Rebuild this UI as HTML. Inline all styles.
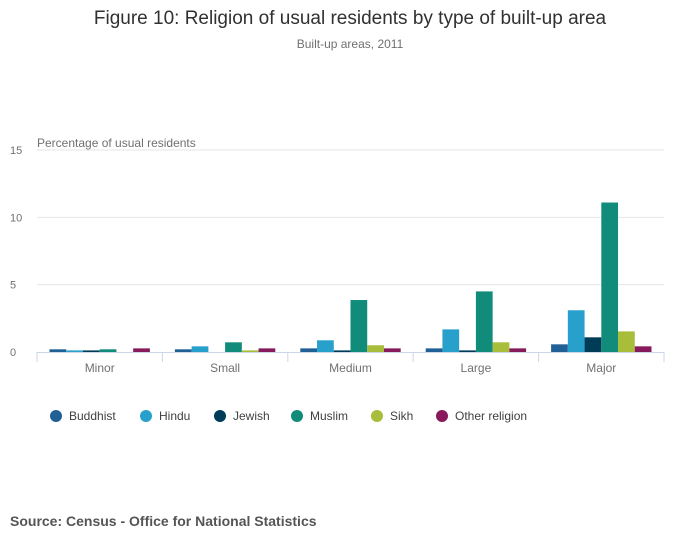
<!DOCTYPE html>
<html><head><meta charset="utf-8"><style>
body{margin:0;background:#fff;font-family:"Liberation Sans",sans-serif;}
#wrap{position:relative;width:700px;height:549px;overflow:hidden;}
</style></head><body>
<div id="wrap">
<svg id="chart" width="700" height="549"></svg>
</div>
<script>
const categories=["Minor","Small","Medium","Large","Major"];
const seriesNames=["Buddhist","Hindu","Jewish","Muslim","Sikh","Other religion"];
const buddhist=[0.2,0.2,0.27,0.27,0.57];
const hindu=[0.12,0.42,0.87,1.68,3.1];
const jewish=[0.12,0,0.12,0.12,1.09];
const muslim=[0.2,0.72,3.86,4.5,11.1];
const sikh=[0,0.12,0.5,0.72,1.53];
const other=[0.27,0.27,0.27,0.27,0.42];
const yTicks=[0,5,10,15];
const colors=["#206095","#27a0cc","#003c57","#118c7b","#a8bd3a","#871a5b"];
const series=[buddhist,hindu,jewish,muslim,sikh,other];
const NS="http://www.w3.org/2000/svg";
const svg=document.getElementById('chart');
function mk(t,a,txt){const e=document.createElementNS(NS,t);for(const k in a)e.setAttribute(k,a[k]);if(txt!==undefined)e.textContent=txt;svg.appendChild(e);return e;}
const x0=37,x1=664,yBase=352,yTop=150,yMax=15;
const y=v=>yBase-(v/yMax)*(yBase-yTop);
const bandW=(x1-x0)/categories.length;
const pad=12.5,barW=(bandW-2*pad)/series.length;
let e;
e=mk('text',{x:350,y:24,'text-anchor':'middle','font-size':19,fill:'#323132'},'Figure 10: Religion of usual residents by type of built-up area');

e=mk('text',{x:350,y:48,'text-anchor':'middle','font-size':12,fill:'#707070'},'Built-up areas, 2011');

yTicks.forEach(t=>{
 if(t>0){e=mk('line',{x1:x0,x2:x1,y1:y(t),y2:y(t),stroke:'#e6e6e6','stroke-width':1});
 }
 e=mk('text',{x:10,y:y(t)+4,'font-size':11,fill:'#707070'},String(t));
 
});
e=mk('text',{x:37,y:147,'font-size':12,fill:'#707070'},'Percentage of usual residents');

categories.forEach((c,i)=>{
 const bx=x0+i*bandW;
 series.forEach((s,j)=>{
  const v=s[i];
  e=mk('rect',{x:bx+pad+j*barW,y:y(v),width:barW,height:yBase-y(v),fill:colors[j]});
  
  
 });
 e=mk('text',{x:bx+bandW/2,y:372,'text-anchor':'middle','font-size':12,fill:'#707070'},c);
 
});
for(let i=0;i<=categories.length;i++){
 e=mk('line',{x1:x0+i*bandW,x2:x0+i*bandW,y1:yBase,y2:yBase+10,stroke:'#ccd6e6'});
 
}
e=mk('line',{x1:x0,x2:x1,y1:yBase+0.5,y2:yBase+0.5,stroke:'#ccd6e6'});

const legX=[56,146,220,297,377,442];
seriesNames.forEach((n,j)=>{
 e=mk('circle',{cx:legX[j],cy:416,r:6,fill:colors[j]});
 
 e=mk('text',{x:legX[j]+13,y:420,'font-size':12,fill:'#414042'},n);
 
});
e=mk('text',{x:10,y:526,'font-size':14,'font-weight':'bold',fill:'#555'},'Source: Census - Office for National Statistics');

</script>
</body></html>
